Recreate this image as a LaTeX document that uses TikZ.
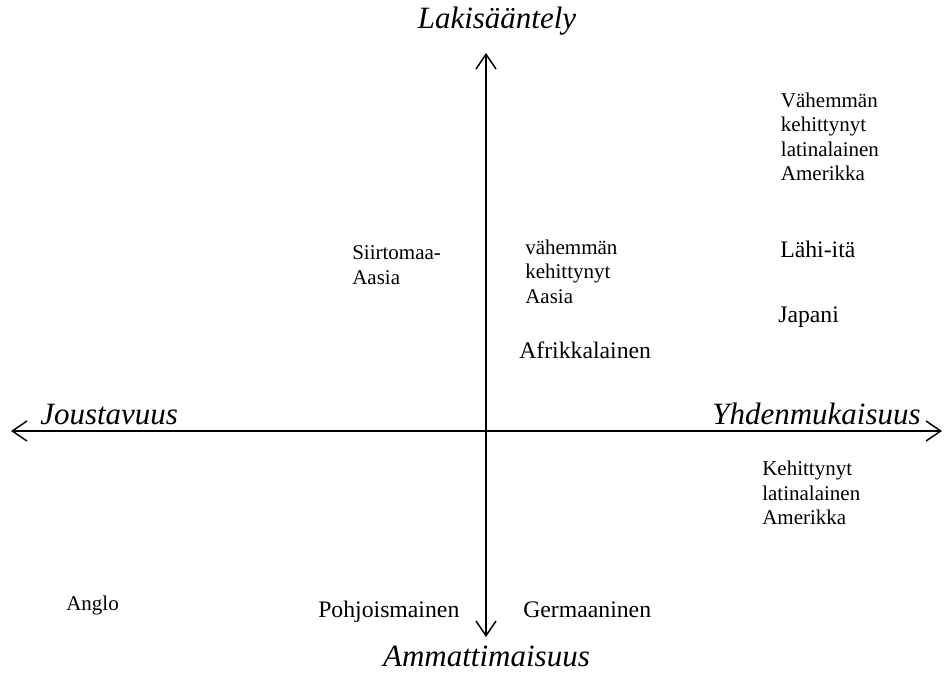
\documentclass[tikz,border=0pt]{standalone}
\usepackage{fontspec}
\setmainfont{Liberation Serif}
\usetikzlibrary{arrows.meta}
\begin{document}
\begin{tikzpicture}[x=0.75pt,y=-0.75pt,
  axisline/.style={line width=1.1pt,
    {Straight Barb[length=11pt,width=15pt]}-{Straight Barb[length=11pt,width=15pt]}},
  axislabel/.style={font=\fontsize{23.25}{28}\selectfont\itshape, inner sep=0pt},
  smalllabel/.style={font=\fontsize{15.75}{18.2}\selectfont, align=left,
    inner sep=0pt, anchor=north west},
  biglabel/.style={font=\fontsize{17.8}{21}\selectfont, inner sep=0pt, anchor=base west}]
\useasboundingbox (0,0) rectangle (944,674);

% axis end points
\coordinate (top) at (486,53);
\coordinate (bottom) at (486,637);
\coordinate (left) at (11,431);
\coordinate (right) at (942,431);

\draw[axisline] (bottom) -- (top);
\draw[axisline] (left) -- (right);

% axis names
\node[axislabel, anchor=base] (lak) at (497,29) {Lakisääntely};
\node[axislabel, anchor=base] (amm) at (486.5,666) {Ammattimaisuus};
\node[axislabel, anchor=base west] (jou) at (40,424) {Joustavuus};
\node[axislabel, anchor=base west] (yhd) at (712,424) {Yhdenmukaisuus};

% country clusters
\node[smalllabel] (vla) at (780.7,92.7) {Vähemmän\\kehittynyt\\latinalainen\\Amerikka};
\node[smalllabel] (sia) at (352,245.7) {Siirtomaa-\\Aasia};
\node[smalllabel] (vka) at (525,239.7) {vähemmän\\kehittynyt\\Aasia};
\node[smalllabel] (kla) at (762,461) {Kehittynyt\\latinalainen\\Amerikka};
\node[smalllabel, anchor=base west] (ang) at (66,610) {Anglo};

\node[biglabel] (afr) at (519,358) {Afrikkalainen};
\node[biglabel] (lah) at (780,257) {Lähi-itä};
\node[biglabel] (jap) at (778,322) {Japani};
\node[biglabel] (poh) at (318,617) {Pohjoismainen};
\node[biglabel] (ger) at (523,617) {Germaaninen};
\end{tikzpicture}
\end{document}
